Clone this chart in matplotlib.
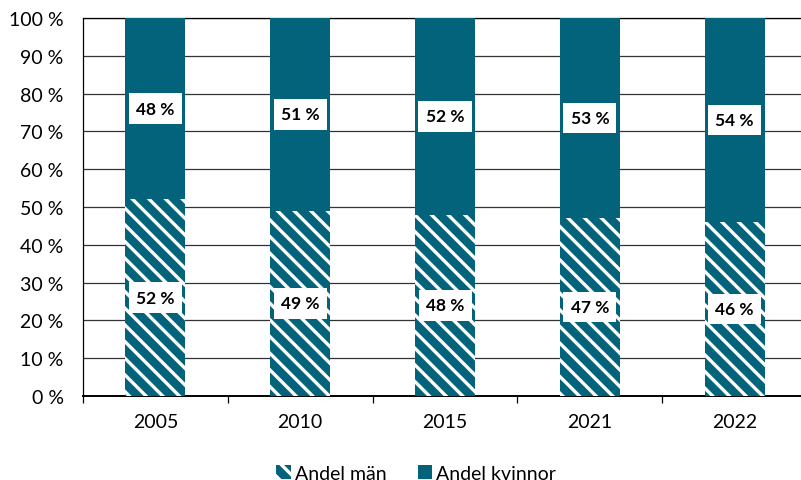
import matplotlib
matplotlib.use("Agg")
import matplotlib.pyplot as plt
import numpy as np

years = ["2005", "2010", "2015", "2021", "2022"]
men = [52, 49, 48, 47, 46]
women = [48, 51, 52, 53, 54]
yticks = [0, 10, 20, 30, 40, 50, 60, 70, 80, 90, 100]

teal = "#03637A"
plt.rcParams["font.family"] = ["Lato", "DejaVu Sans"]
plt.rcParams["hatch.linewidth"] = 2.4

fig = plt.figure(figsize=(8.01, 4.81), dpi=100)
# plot area runs slightly past the right edge, as in the original
ax = fig.add_axes([0.1036, 0.1746, 0.904, 0.786])

x = np.arange(len(years))
w = 0.415
ax.bar(x, men, w, color=teal, edgecolor="white", hatch="\\\\", linewidth=0,
       label="Andel män", zorder=3)
ax.bar(x, women, w, bottom=men, color=teal, linewidth=0,
       label="Andel kvinnor", zorder=3)

box = dict(facecolor="white", edgecolor="none", boxstyle="square,pad=0.42")
for i in range(len(years)):
    ax.text(x[i], men[i] / 2, f"{men[i]} %", ha="center", va="center",
            fontsize=12.5, fontweight="bold", bbox=box, zorder=4)
    ax.text(x[i], men[i] + women[i] / 2, f"{women[i]} %", ha="center", va="center",
            fontsize=12.5, fontweight="bold", bbox=box, zorder=4)

ax.set_ylim(0, 100)
ax.set_xlim(-0.5, len(years) - 0.5)
ax.set_yticks(yticks)
ax.set_yticklabels([f"{v} %" for v in yticks], fontsize=14)
ax.set_xticks(x)
ax.set_xticklabels(years, fontsize=14)
ax.tick_params(axis="x", length=0, pad=12)
ax.tick_params(axis="y", length=0, pad=14)
ax.set_xticks(np.arange(len(years) + 1) - 0.5, minor=True)
ax.tick_params(axis="x", which="minor", length=5, width=0.9)
ax.grid(axis="y", color="#333333", linewidth=0.9, zorder=0)
ax.spines["right"].set_visible(False)
for s in ["left", "top"]:
    ax.spines[s].set_color("black")
    ax.spines[s].set_linewidth(0.9)
ax.spines["bottom"].set_linewidth(1.4)

ax.legend(loc="upper center", bbox_to_anchor=(0.46, -0.135), ncol=2, frameon=False,
          fontsize=14, handlelength=0.75, handleheight=0.75, handletextpad=0.2,
          columnspacing=1.6)

fig.savefig("out.png", dpi=100)
